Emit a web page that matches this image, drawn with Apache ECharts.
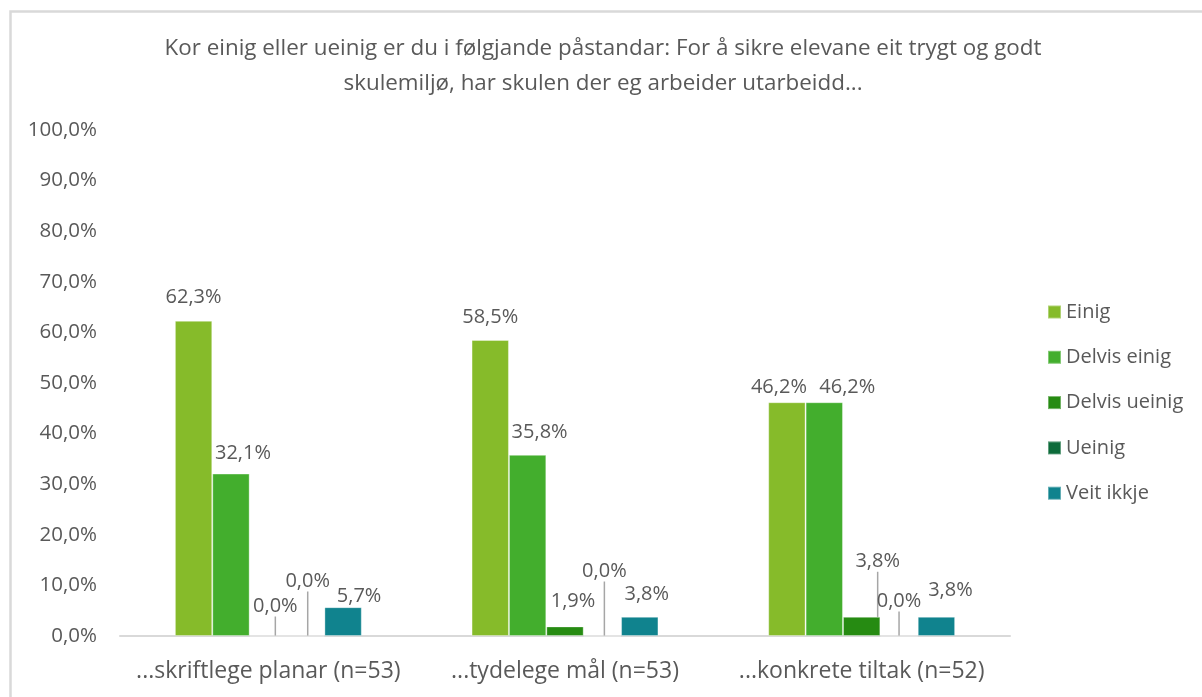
<!DOCTYPE html>
<html lang="nn">
  <head>
    <meta charset="UTF-8" />
    <title>Trygt og godt skulemiljø</title>
    <script src="https://cdn.jsdelivr.net/npm/echarts@6.0.0/dist/echarts.min.js"></script>
    <style>
      body { margin: 0; background: #fff; }
      #container { width: 1202px; height: 697px; }
    </style>
  </head>
  <body>
    <div id="container"></div>
    <script>
      // data
      const categories = [
        "...skriftlege planar (n=53)",
        "...tydelege mål (n=53)",
        "...konkrete tiltak (n=52)",
      ];
      const einig = [62.3, 58.5, 46.2];
      const delvisEinig = [32.1, 35.8, 46.2];
      const delvisUeinig = [0.0, 1.9, 3.8];
      const ueinig = [0.0, 0.0, 0.0];
      const veitIkkje = [5.7, 3.8, 3.8];
      const seriesNames = ["Einig", "Delvis einig", "Delvis ueinig", "Ueinig", "Veit ikkje"];
      const seriesValues = [einig, delvisEinig, delvisUeinig, ueinig, veitIkkje];
      const colors = ["#86bb2a", "#43ae2d", "#268b12", "#0d6b3a", "#10838e"];

      // label nudges [dx, dy, leader line] per series, per category (like the moved Excel labels)
      const labelMoves = [
        [[0, 0], [0, 0], [-8, 8]],
        [[12, 3], [12, 0], [23, 8]],
        [[7, -6, true], [8, -2], [16, -32, true]],
        [[2, -31, true], [2, -41, true], [0, -11, true]],
        [[16, 12], [7, 1], [14, -3]],
      ];

      const textColor = "#595959";
      const font = "'Open Sans', sans-serif";

      const fmt = (v) => v.toFixed(1).replace(".", ",") + "%";

      const chart = echarts.init(document.getElementById("container"), null, { renderer: "canvas" });

      const series = seriesValues.map((vals, si) => ({
        name: seriesNames[si],
        type: "bar",
        barGap: "0%",
        barCategoryGap: "37%",
        itemStyle: { color: colors[si], borderColor: "rgba(255,255,255,0.35)", borderWidth: 1 },
        label: {
          show: true,
          position: "top",
          distance: 13,
          color: textColor,
          fontFamily: font,
          fontSize: 20,
          formatter: (p) => fmt(p.value),
        },
        labelLine: { show: false, lineStyle: { color: "#a6a6a6", width: 1.5 } },
        labelLayout: (p) => {
          const m = labelMoves[p.seriesIndex][p.dataIndex];
          const out = { dx: m[0], dy: m[1] };
          if (m[2]) {
            // leader from the top middle of the bar to just under the moved label
            const bx = p.rect.x + p.rect.width / 2;
            const by = p.rect.y;
            const lx = p.labelRect.x + p.labelRect.width / 2 + m[0] - 2;
            const ly = p.labelRect.y + p.labelRect.height + m[1] + 4;
            out.labelLinePoints = [[bx, by], [lx, ly], [lx, ly]];
          }
          return out;
        },
        data: vals.map((v, ci) => ({
          value: v,
          labelLine: { show: !!labelMoves[si][ci][2] },
        })),
      }));

      const option = {
        backgroundColor: "#fff",
        animation: false,
        title: {
          text: "Kor einig eller ueinig er du i følgjande påstandar: For å sikre elevane eit trygt og godt\nskulemiljø, har skulen der eg arbeider utarbeidd...",
          left: 598,
          textAlign: "center",
          top: 26,
          textStyle: {
            color: textColor,
            fontFamily: font,
            fontSize: 22.4,
            fontWeight: "normal",
            lineHeight: 35,
          },
        },
        legend: {
          orient: "vertical",
          left: 1047,
          top: 302,
          padding: 0,
          itemWidth: 13,
          itemHeight: 13,
          itemGap: 25.3,
          icon: "rect",
          textStyle: { color: textColor, fontFamily: font, fontSize: 20 },
        },
        grid: { left: 120, right: 192, top: 130, bottom: 61, containLabel: false, outerBoundsMode: "none" },
        xAxis: {
          type: "category",
          data: categories,
          axisLine: { lineStyle: { color: "#d9d9d9", width: 2 } },
          axisTick: { show: false },
          axisLabel: { interval: 0, hideOverlap: false, color: textColor, fontFamily: font, fontSize: 23, margin: 24 },
        },
        yAxis: {
          type: "value",
          min: 0,
          max: 100,
          interval: 10,
          splitLine: { show: false },
          axisLine: { show: false },
          axisTick: { show: false },
          axisLabel: {
            color: textColor,
            fontFamily: font,
            fontSize: 20.5,
            margin: 23,
            formatter: (v) => fmt(v),
          },
        },
        graphic: [
          {
            type: "rect",
            left: 8,
            top: 9,
            shape: { width: 1300, height: 800 },
            style: { fill: null, stroke: "#d9d9d9", lineWidth: 2.5 },
            silent: true,
          },
        ],
        series: series,
      };

      chart.setOption(option);
    </script>
  </body>
</html>
